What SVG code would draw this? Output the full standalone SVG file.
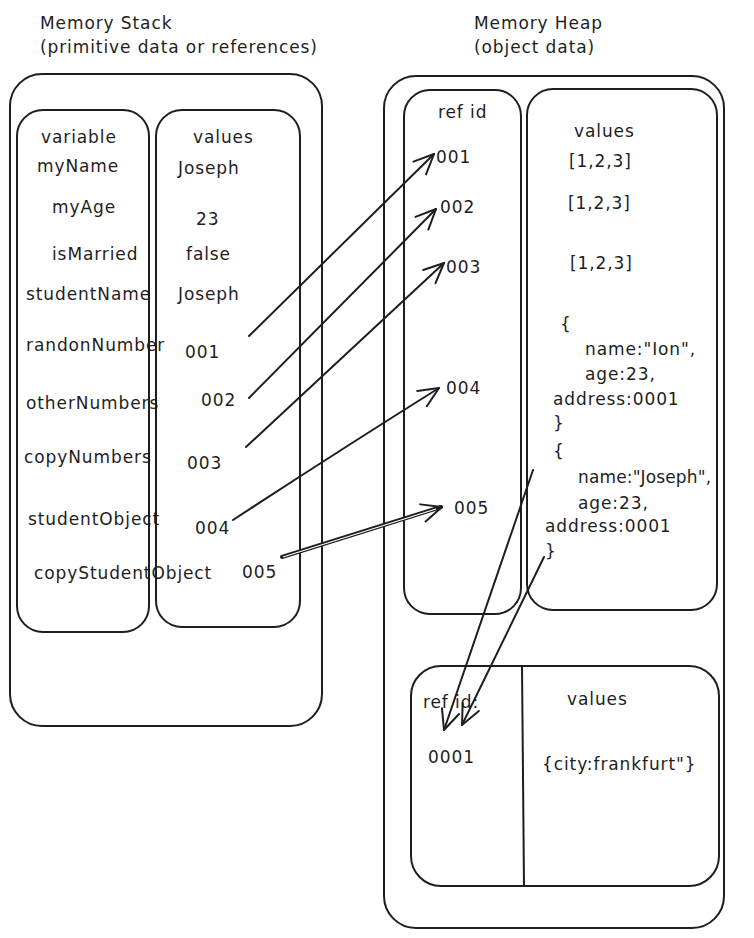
<svg xmlns="http://www.w3.org/2000/svg" width="754" height="938" viewBox="0 0 754 938">
<style>
.box{fill:none;stroke:#1e1e1e;stroke-width:2}
.t{font-family:"DejaVu Sans","Liberation Sans",sans-serif;font-size:17px;letter-spacing:0.9px;fill:#1e1e1e}
.c{fill:none;stroke:#1e1e1e;stroke-width:2;stroke-linecap:round}
</style>
<defs>
<marker id="ah" markerUnits="userSpaceOnUse" markerWidth="30" markerHeight="30" refX="22" refY="12" orient="auto" viewBox="0 0 30 24">
<path d="M2,3 L22,12 L2,21" fill="none" stroke="#1e1e1e" stroke-width="2" stroke-linecap="round" stroke-linejoin="round"/>
</marker>
</defs>
<rect width="754" height="938" fill="#ffffff"/>

<g id="title-stack">
<text class="t" x="40" y="29">Memory Stack</text>
<text class="t" x="40" y="53">(primitive data or references)</text>
</g>
<g id="title-heap">
<text class="t" x="474" y="29">Memory Heap</text>
<text class="t" x="474" y="53">(object data)</text>
</g>

<g id="stack">
<rect class="box" x="10" y="74" width="312" height="652" rx="32"/>
</g>
<g id="stack-variables">
<rect class="box" x="17" y="110" width="132" height="522" rx="26"/>
<text class="t" x="41" y="143">variable</text>
<text class="t" x="37" y="172">myName</text>
<text class="t" x="52" y="213">myAge</text>
<text class="t" x="52" y="260">isMarried</text>
<text class="t" x="26" y="300">studentName</text>
<text class="t" x="26" y="351">randonNumber</text>
<text class="t" x="26" y="409">otherNumbers</text>
<text class="t" x="24" y="463">copyNumbers</text>
<text class="t" x="28" y="525">studentObject</text>
<text class="t" x="34" y="579">copyStudentObject</text>
</g>
<g id="stack-values">
<rect class="box" x="156" y="110" width="144" height="517" rx="26"/>
<text class="t" x="193" y="143">values</text>
<text class="t" x="178" y="174">Joseph</text>
<text class="t" x="196" y="225">23</text>
<text class="t" x="186" y="260">false</text>
<text class="t" x="178" y="300">Joseph</text>
<text class="t" x="185" y="358">001</text>
<text class="t" x="201" y="406">002</text>
<text class="t" x="187" y="469">003</text>
<text class="t" x="195" y="534">004</text>
<text class="t" x="242" y="578">005</text>
</g>

<g id="heap">
<rect class="box" x="384" y="76" width="340" height="852" rx="32"/>
</g>
<g id="heap-refids">
<rect class="box" x="404" y="90" width="117" height="524" rx="26"/>
<text class="t" x="438" y="118">ref id</text>
<text class="t" x="436" y="163">001</text>
<text class="t" x="440" y="213">002</text>
<text class="t" x="446" y="273">003</text>
<text class="t" x="446" y="394">004</text>
<text class="t" x="454" y="514">005</text>
</g>
<g id="heap-values">
<rect class="box" x="527" y="89" width="190" height="521" rx="26"/>
<text class="t" x="574" y="137">values</text>
<text class="t" x="569" y="167">[1,2,3]</text>
<text class="t" x="568" y="209">[1,2,3]</text>
<text class="t" x="570" y="269">[1,2,3]</text>
<text class="t" x="560" y="330">{</text>
<text class="t" x="585" y="355">name:"Ion",</text>
<text class="t" x="585" y="380">age:23,</text>
<text class="t" x="553" y="405">address:0001</text>
<text class="t" x="553" y="429">}</text>
<text class="t" x="553" y="457">{</text>
<text class="t" x="578" y="483" textLength="134">name:"Joseph",</text>
<text class="t" x="578" y="509">age:23,</text>
<text class="t" x="545" y="532">address:0001</text>
<text class="t" x="545" y="557">}</text>
</g>
<g id="heap-address">
<rect class="box" x="411" y="666" width="308" height="220" rx="30"/>
<line class="box" x1="522" y1="666" x2="524" y2="886"/>
<text class="t" x="423" y="708">ref id:</text>
<text class="t" x="428" y="763">0001</text>
<text class="t" x="567" y="705">values</text>
<text class="t" x="542" y="770">{city:frankfurt"}</text>
</g>

<g id="connectors">
<line class="c" x1="249" y1="336" x2="434" y2="154" marker-end="url(#ah)"/>
<line class="c" x1="249" y1="398" x2="436" y2="209" marker-end="url(#ah)"/>
<line class="c" x1="246" y1="447" x2="444" y2="263" marker-end="url(#ah)"/>
<path class="c" d="M233,520 Q340,450 439,388" marker-end="url(#ah)"/>
<line x1="282" y1="557" x2="441" y2="507" stroke="#1e1e1e" stroke-width="4" stroke-linecap="round"/>
<line x1="283" y1="557" x2="436" y2="509" stroke="#ffffff" stroke-width="1.2"/>
<line class="c" x1="282" y1="557" x2="442" y2="507" stroke-opacity="0" marker-end="url(#ah)"/>
<line class="c" x1="533" y1="470" x2="444" y2="730" marker-end="url(#ah)"/>
<line class="c" x1="544" y1="557" x2="462" y2="725" marker-end="url(#ah)"/>
</g>
</svg>
